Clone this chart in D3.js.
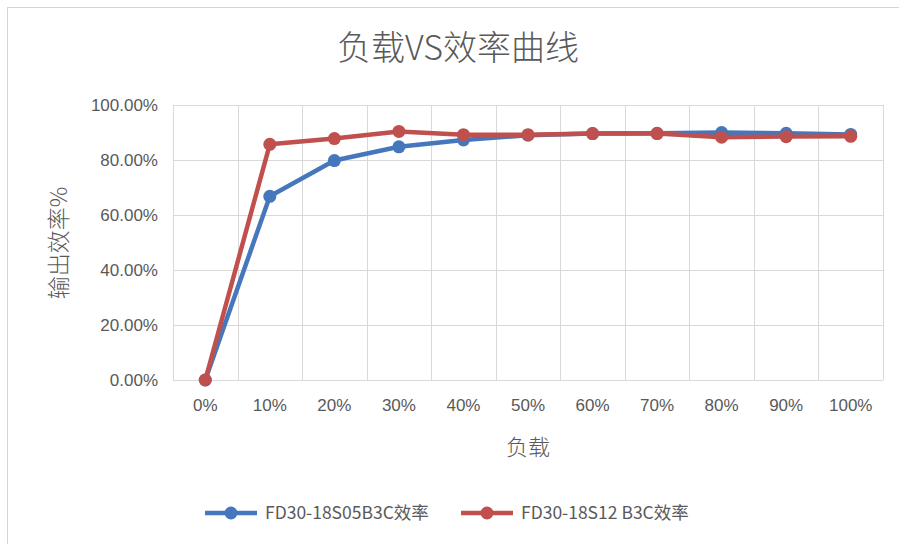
<!DOCTYPE html>
<html>
<head>
<meta charset="utf-8">
<script src="https://cdn.jsdelivr.net/npm/d3@7"></script>
<style>
  body { margin: 0; background: #fff; }
  svg { display: block; font-family: "Noto Sans CJK SC", "Noto Sans", sans-serif; }
</style>
</head>
<body>
<svg width="899" height="544"></svg>
<script>
// load steps and measured efficiency
const loads = ['0%', '10%', '20%', '30%', '40%', '50%', '60%', '70%', '80%', '90%', '100%'];
const effS05 = [0, 0.668, 0.798, 0.848, 0.873, 0.890, 0.896, 0.897, 0.900, 0.897, 0.893];
const effS12 = [0, 0.857, 0.878, 0.904, 0.892, 0.892, 0.896, 0.896, 0.883, 0.885, 0.886];
const yTicks = [0, 0.2, 0.4, 0.6, 0.8, 1.0];
const seriesNames = ['FD30-18S05B3C效率', 'FD30-18S12 B3C效率'];
const colors = ['#4677bd', '#c0504d'];

const svg = d3.select('svg');
const textColor = '#595959';

// outer chart border
svg.append('rect')
  .attr('x', 7.5).attr('y', 7.5)
  .attr('width', 1000).attr('height', 1000)
  .attr('fill', 'none').attr('stroke', '#d4d4d4');

const x = d3.scaleBand().domain(loads).range([173, 883]);
const y = d3.scaleLinear().domain([0, 1]).range([380, 105]);

// gridlines
svg.append('g').selectAll('line')
  .data(yTicks)
  .enter().append('line')
    .attr('x1', 173).attr('x2', 883)
    .attr('y1', d => Math.round(y(d)) + 0.5).attr('y2', d => Math.round(y(d)) + 0.5)
    .attr('stroke', '#d9d9d9');

svg.append('g').selectAll('line')
  .data(loads.map(d => x(d)).concat([x.range()[1]]))
  .enter().append('line')
    .attr('x1', d => Math.round(d) + 0.5).attr('x2', d => Math.round(d) + 0.5)
    .attr('y1', y(1)).attr('y2', y(0))
    .attr('stroke', '#d9d9d9');

// axes labels
const yAxis = d3.axisLeft(y).tickValues(yTicks).tickFormat(d3.format('.2%')).tickSize(0).tickPadding(15);
svg.append('g').attr('transform', 'translate(173,0)').call(yAxis)
  .call(g => g.select('.domain').remove())
  .selectAll('text').attr('fill', textColor).style('font-size', '17px');

const xAxis = d3.axisBottom(x).tickSize(0).tickPadding(19);
svg.append('g').attr('transform', 'translate(0,380)').call(xAxis)
  .call(g => g.select('.domain').remove())
  .selectAll('text').attr('fill', textColor).style('font-size', '17px');

// titles
svg.append('text')
  .attr('x', 458).attr('y', 60)
  .attr('text-anchor', 'middle')
  .attr('fill', textColor)
  .style('font-size', '34px').style('font-weight', 300)
  .text('负载VS效率曲线');

svg.append('text')
  .attr('x', 528).attr('y', 455)
  .attr('text-anchor', 'middle')
  .attr('fill', textColor)
  .style('font-size', '22px').style('font-weight', 300)
  .text('负载');

svg.append('text')
  .attr('transform', 'translate(67,243) rotate(-90)')
  .attr('text-anchor', 'middle')
  .attr('fill', textColor)
  .style('font-size', '23px').style('font-weight', 300)
  .text('输出效率%');

// lines
const line = d3.line().x((d, i) => x(loads[i]) + x.bandwidth() / 2).y(d => y(d));
[effS05, effS12].forEach((vals, k) => {
  const g = svg.append('g');
  g.append('path')
    .attr('d', line(vals))
    .attr('fill', 'none')
    .attr('stroke', colors[k])
    .attr('stroke-width', 4.5)
    .attr('stroke-linejoin', 'round');
  g.selectAll('circle')
    .data(vals)
    .enter().append('circle')
      .attr('cx', (d, i) => x(loads[i]) + x.bandwidth() / 2)
      .attr('cy', d => y(d))
      .attr('r', 6.5)
      .attr('fill', colors[k]);
});

// legend
const legendX = [205, 461];
seriesNames.forEach((name, k) => {
  const g = svg.append('g').attr('transform', `translate(${legendX[k]},513)`);
  g.append('line').attr('x1', 0).attr('x2', 52).attr('y1', 0).attr('y2', 0)
    .attr('stroke', colors[k]).attr('stroke-width', 4.5);
  g.append('circle').attr('cx', 26).attr('cy', 0).attr('r', 6.5).attr('fill', colors[k]);
  g.append('text').attr('x', 60).attr('y', 6)
    .attr('fill', textColor)
    .style('font-size', '17.5px')
    .text(name);
});
</script>
</body>
</html>
